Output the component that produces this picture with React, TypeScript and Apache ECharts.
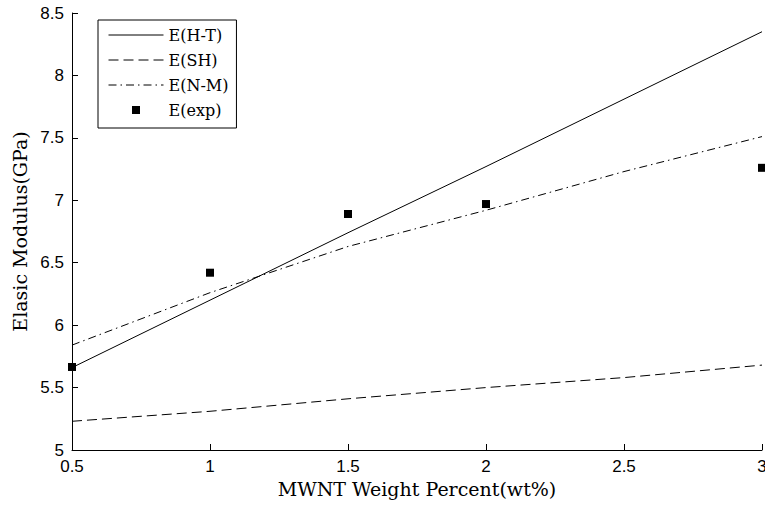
import React, { useEffect, useRef } from "react";
import * as echarts from "echarts";

const xValues = [0.5, 1, 1.5, 2, 2.5, 3];
const htValues = [5.66, 6.2, 6.74, 7.27, 7.81, 8.35];
const shValues = [5.23, 5.31, 5.41, 5.5, 5.58, 5.68];
const nmValues = [5.84, 6.26, 6.63, 6.92, 7.23, 7.51];
const expX = [0.5, 1, 1.5, 2, 3];
const expY = [5.665, 6.42, 6.89, 6.97, 7.26];

const seriesNames = ["E(H-T)", "E(SH)", "E(N-M)", "E(exp)"];

const pairs = (xs: number[], ys: number[]) => xs.map((x, i) => [x, ys[i]]);

export default function App() {
  const ref = useRef<HTMLDivElement>(null);
  useEffect(() => {
    document.body.style.margin = "0";
    const chart = echarts.init(ref.current!, undefined, { renderer: "svg" });
    const serif = "DejaVu Serif";
    const sans = "Liberation Sans";
    chart.setOption({
      animation: false,
      backgroundColor: "#fff",
      grid: { left: 72, right: 3, top: 13, bottom: 56, containLabel: false, outerBoundsMode: "none" },
      xAxis: {
        type: "value",
        min: 0.5,
        max: 3,
        interval: 0.5,
        name: "MWNT Weight Percent(wt%)",
        nameLocation: "middle",
        nameGap: 19,
        nameTextStyle: { fontFamily: serif, fontSize: 19, color: "#000" },
        axisLine: { show: true, lineStyle: { color: "#000", width: 1 } },
        axisTick: { show: true, inside: true, length: 6, lineStyle: { color: "#000" } },
        axisLabel: { fontFamily: sans, fontSize: 17, color: "#000", margin: 8, showMaxLabel: true, showMinLabel: true },
        splitLine: { show: false },
      },
      yAxis: {
        type: "value",
        min: 5,
        max: 8.5,
        interval: 0.5,
        name: "Elasic Modulus(GPa)",
        nameLocation: "middle",
        nameGap: 41,
        nameTextStyle: { fontFamily: serif, fontSize: 19, color: "#000" },
        axisLine: { show: true, lineStyle: { color: "#000", width: 1 } },
        axisTick: { show: true, inside: true, length: 6, lineStyle: { color: "#000" } },
        axisLabel: { fontFamily: sans, fontSize: 17, color: "#000", margin: 8 },
        splitLine: { show: false },
      },
      legend: {
        orient: "vertical",
        left: 98,
        top: 20,
        itemWidth: 55,
        itemHeight: 10,
        itemGap: 5,
        padding: [5, 8, 8, 10],
        borderColor: "#000",
        borderWidth: 1,
        backgroundColor: "#fff",
        textStyle: { fontFamily: serif, fontSize: 16, color: "#000", lineHeight: 20 },
        lineStyle: { width: 1 },
        data: [
          { name: seriesNames[0], itemStyle: { opacity: 0 } },
          { name: seriesNames[1], itemStyle: { opacity: 0 } },
          { name: seriesNames[2], itemStyle: { opacity: 0 } },
          { name: seriesNames[3], lineStyle: { width: 0, opacity: 0 } },
        ],
      },
      series: [
        {
          name: seriesNames[0],
          type: "line",
          symbol: "none",
          data: pairs(xValues, htValues),
          lineStyle: { color: "#000", width: 1, type: "solid" },
          itemStyle: { color: "#000" },
        },
        {
          name: seriesNames[1],
          type: "line",
          symbol: "none",
          data: pairs(xValues, shValues),
          lineStyle: { color: "#000", width: 1, type: [10, 5] },
          itemStyle: { color: "#000" },
        },
        {
          name: seriesNames[2],
          type: "line",
          symbol: "none",
          data: pairs(xValues, nmValues),
          lineStyle: { color: "#000", width: 1, type: [8, 4, 1.5, 4] },
          itemStyle: { color: "#000" },
        },
        {
          name: seriesNames[3],
          type: "line",
          symbol: "rect",
          symbolSize: 8,
          showAllSymbol: true,
          clip: false,
          data: pairs(expX, expY),
          lineStyle: { color: "rgba(0,0,0,0)", width: 0, opacity: 0 },
          itemStyle: { color: "#000" },
        },
      ],
    });
    return () => chart.dispose();
  }, []);
  return (
    <div
      ref={ref}
      style={{ position: "absolute", left: 0, top: 0, width: 765, height: 506 }}
    />
  );
}
